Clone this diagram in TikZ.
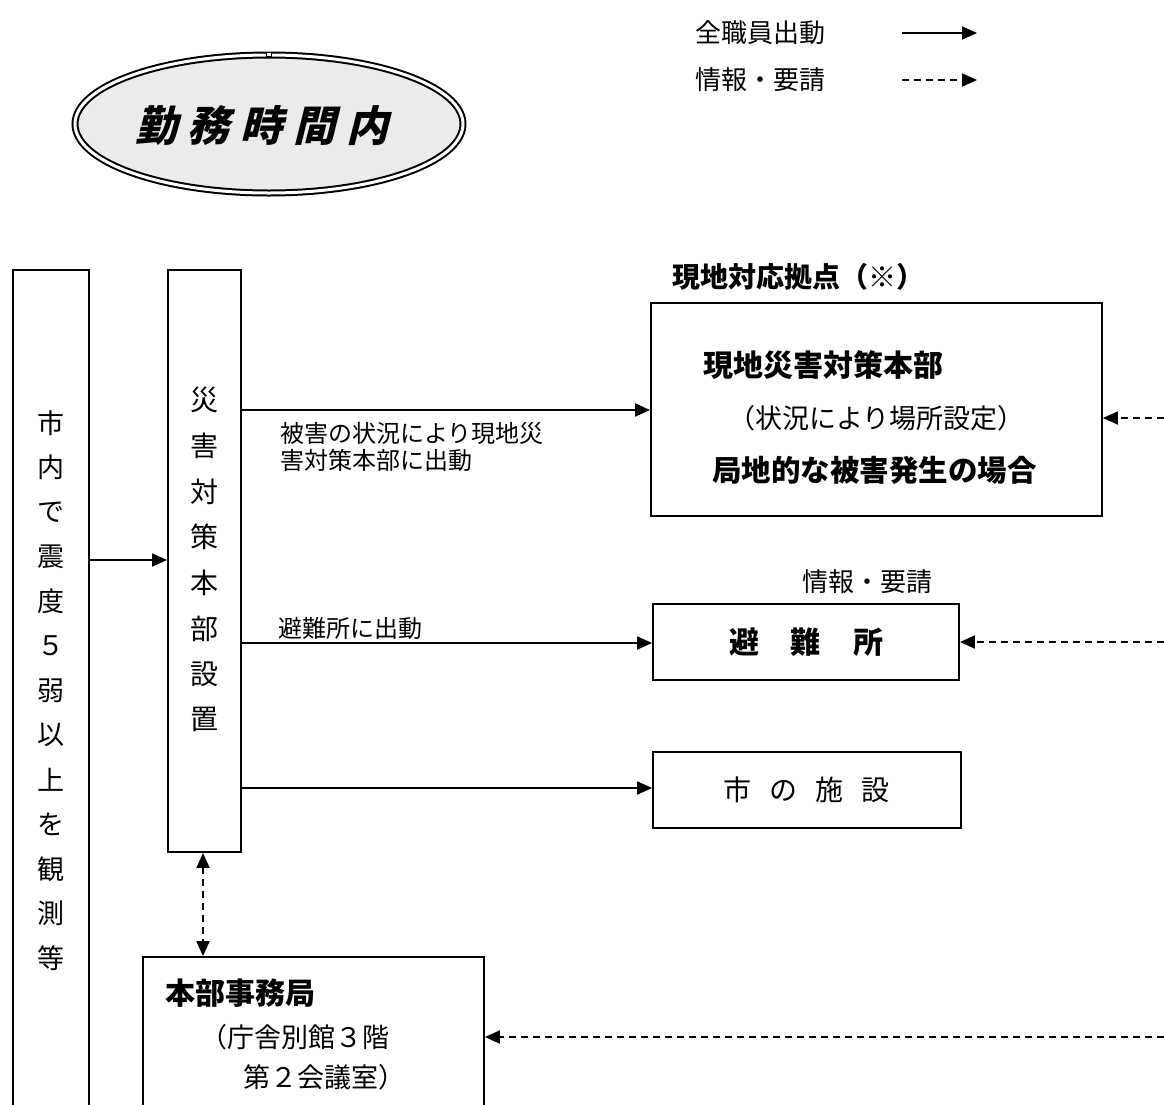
\documentclass[tikz,border=0pt]{standalone}
\usepackage{fontspec}
\setmainfont{Noto Sans CJK JP}
\newfontfamily\jpsl[FakeSlant=0.25]{Noto Sans CJK JP}
\usetikzlibrary{arrows.meta,shapes.geometric}
\tikzset{
  box/.style={draw,line width=1.8pt,rectangle,inner sep=0pt},
  fs/.style={inner sep=0pt,font=\fontsize{#1}{#1}\selectfont},
  bfs/.style={inner sep=0pt,font=\fontsize{#1}{#1}\selectfont\bfseries},
  arr/.style={line width=1.8pt,-{Triangle[length=15pt,width=13pt]}},
  darr/.style={arr,dash pattern=on 7pt off 5pt},
  darrboth/.style={line width=1.8pt,dash pattern=on 7pt off 5pt,{Triangle[length=15pt,width=13pt]}-{Triangle[length=15pt,width=13pt]}}
}
\begin{document}
\begin{tikzpicture}[x=1pt,y=-1pt]
\useasboundingbox (0,0) rectangle (1164,1104);
\clip (0,0) rectangle (1164,1104);

% title oval
\node[ellipse,draw,double,double distance=3pt,line width=2pt,fill=gray!16,
      minimum width=388pt,minimum height=138pt,inner sep=0pt] (oval) at (269,124) {};
\node[draw,fill=white,line width=0.6pt,minimum width=5pt,minimum height=4pt,inner sep=0pt] (mk) at (269,54) {};
\node[inner sep=0pt,font=\jpsl\bfseries\fontsize{42}{42}\selectfont] (ttl) at (262,126)
  {勤\hspace{11pt}務\hspace{11pt}時\hspace{11pt}間\hspace{11pt}内};

% legend
\node[fs=26,anchor=west] (leg1) at (695,33) {全職員出動};
\node[fs=26,anchor=west] (leg2) at (695,80) {情報・要請};
\coordinate (la1) at (902,33);
\coordinate (lb1) at (977,33);
\coordinate (la2) at (902,80);
\coordinate (lb2) at (977,80);
\draw[arr] (la1) -- (lb1);
\draw[darr] (la2) -- (lb2);

% left box
\node[box,minimum width=76pt,minimum height=850pt] (lbox) at (51,695) {};
\foreach \c [count=\i from 0] in {市,内,で,震,度,５,弱,以,上,を,観,測,等}
  \node[fs=27] (lc\i) at (51,423+44.6*\i) {\c};

% HQ box
\node[box,minimum width=73pt,minimum height=582pt] (dbox) at (204.5,561) {};
\foreach \c [count=\i from 0] in {災,害,対,策,本,部,設,置}
  \node[fs=28] (dc\i) at (204.5,400+45.7*\i) {\c};

\draw[arr] (lbox.east |- 0,560) -- (dbox.west |- 0,560);

% local HQ
\node[bfs=28,anchor=west] (gtitle) at (672,277) {現地対応拠点（※）};
\node[box,minimum width=451pt,minimum height=213pt] (gbox) at (876.5,409.5) {};
\node[bfs=30,anchor=west] (g1) at (703,365) {現地災害対策本部};
\node[fs=27,anchor=west] (g2) at (728,418) {（状況により場所設定）};
\node[bfs=29.5,anchor=west] (g3) at (712,470) {局地的な被害発生の場合};
\draw[arr] (dbox.east |- 0,410) -- (gbox.west |- 0,410);
\node[anchor=north west,align=left,inner sep=0pt,font=\fontsize{24}{27}\selectfont] (lab1) at (280,422)
  {被害の状況により現地災\\害対策本部に出動};

% shelter
\node[fs=26,anchor=west] (hlab) at (802,582) {情報・要請};
\node[box,minimum width=306pt,minimum height=76pt] (hbox) at (806,642) {};
\node[bfs=30] (htext) at (806,642) {避\hspace{32pt}難\hspace{32pt}所};
\draw[arr] (dbox.east |- 0,643) -- (hbox.west |- 0,643);
\node[fs=24,anchor=west] (lab2) at (278,628) {避難所に出動};

% city facilities
\node[box,minimum width=308pt,minimum height=76pt] (sbox) at (807,790) {};
\node[fs=28] (stext) at (806.5,790) {市\hspace{18pt}の\hspace{18pt}施\hspace{18pt}設};
\draw[arr] (dbox.east |- 0,788) -- (sbox.west |- 0,788);

% secretariat
\node[box,minimum width=341pt,minimum height=163pt] (jbox) at (313.5,1038.5) {};
\node[bfs=30,anchor=west] (j1) at (165,993) {本部事務局};
\node[fs=27,anchor=west] (j2) at (200,1037) {（庁舎別館３階};
\node[fs=27,anchor=west] (j3) at (243,1077) {第２会議室）};
\draw[darrboth] (dbox.south -| 203,0) -- (jbox.north -| 203,0);

% incoming dashed arrows from the right
\coordinate (r1) at (1164,418);
\coordinate (r2) at (1164,642);
\coordinate (r3) at (1164,1037);
\draw[darr] (r1) -- (gbox.east |- r1);
\draw[darr] (r2) -- (hbox.east |- r2);
\draw[darr] (r3) -- (jbox.east |- r3);
\end{tikzpicture}
\end{document}
